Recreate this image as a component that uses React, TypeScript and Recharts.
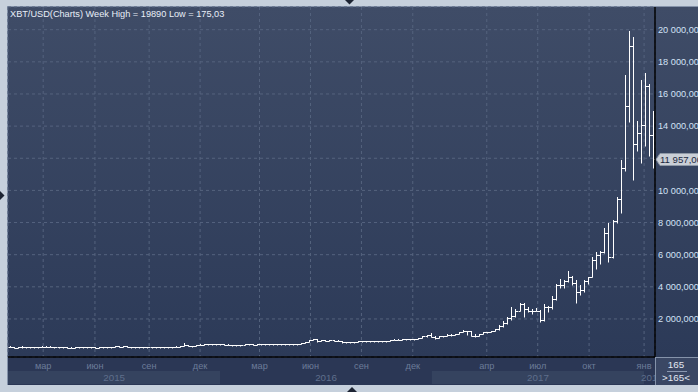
import React from 'react';
import { ComposedChart, Bar, XAxis, YAxis, CartesianGrid, ReferenceLine } from 'recharts';

// Weekly OHLC, XBT/USD, first week Jan 2015 … Jan 2018
const opens = [
  274, 266, 209, 253, 226, 227, 257, 238, 260, 275, 286, 260, 252, 253, 236, 223, 219, 240, 243, 233,
  240, 225, 223, 233, 244, 257, 271, 290, 276, 293, 281, 265, 260, 228, 230, 236, 231, 231, 234, 239,
  247, 269, 285, 326, 378, 330, 323, 361, 396, 434, 442, 422, 430, 448, 382, 391, 376, 373, 400, 437,
  433, 410, 412, 411, 417, 421, 421, 431, 461, 448, 461, 457, 446, 528, 581, 687, 762, 640, 676, 651,
  662, 655, 624, 587, 570, 581, 573, 606, 609, 609, 601, 612, 620, 638, 657, 700, 703, 703, 730, 736,
  765, 776, 791, 928, 998, 900, 820, 920, 915, 1020, 1000, 1050, 1190, 1230, 1240, 960, 960, 1080, 1170, 1180,
  1240, 1350, 1560, 1720, 2050, 2200, 2520, 2950, 2640, 2480, 2500, 2500, 1930, 2750, 2750, 3250, 4100, 4100, 4350, 4600,
  4250, 3700, 3780, 4350, 4600, 5700, 6000, 6150, 7380, 5880, 8100, 9460, 11380, 15250, 18980, 12890, 13550, 14070, 16500, 13450,
];
const highs = [
  300, 272, 255, 310, 246, 263, 258, 262, 300, 300, 294, 270, 262, 260, 237, 237, 245, 246, 245, 242,
  241, 232, 234, 254, 259, 274, 300, 296, 294, 298, 286, 271, 262, 233, 237, 245, 236, 237, 246, 248,
  271, 291, 336, 502, 390, 339, 378, 416, 468, 467, 454, 437, 460, 450, 425, 397, 395, 403, 445, 442,
  437, 420, 418, 420, 424, 425, 432, 467, 468, 464, 462, 461, 534, 588, 702, 780, 770, 710, 687, 684,
  678, 661, 628, 597, 584, 585, 612, 630, 611, 612, 616, 623, 642, 659, 720, 743, 739, 754, 748, 770,
  781, 801, 934, 1000, 1150, 915, 935, 930, 1040, 1080, 1070, 1200, 1290, 1280, 1250, 1060, 1090, 1210, 1210, 1250,
  1360, 1620, 1860, 2100, 2760, 2600, 2980, 2980, 2770, 2590, 2690, 2530, 2900, 2800, 3450, 4200, 4480, 4400, 4980, 4700,
  4400, 4100, 4400, 4600, 5850, 6150, 6200, 7640, 7950, 8160, 9570, 11890, 17180, 19890, 19530, 14340, 16870, 17300, 16620, 14960,
];
const lows = [
  262, 175.03, 205, 212, 212, 216, 232, 233, 258, 268, 246, 236, 240, 219, 215, 217, 217, 227, 231, 232,
  225, 220, 222, 228, 242, 252, 263, 271, 271, 278, 258, 253, 198, 199, 225, 229, 223, 225, 232, 234,
  246, 264, 280, 320, 303, 312, 315, 350, 391, 428, 410, 413, 424, 360, 366, 363, 365, 371, 396, 410,
  401, 395, 407, 408, 411, 414, 418, 428, 442, 442, 449, 436, 440, 516, 575, 662, 555, 620, 610, 648,
  650, 620, 480, 566, 565, 571, 568, 601, 600, 592, 600, 607, 615, 628, 652, 685, 701, 697, 725, 730,
  750, 770, 791, 890, 880, 750, 815, 890, 910, 950, 995, 1045, 1180, 1010, 940, 890, 940, 1080, 1160, 1180,
  1240, 1340, 1530, 1700, 1940, 2130, 2500, 2150, 2450, 2330, 2480, 1840, 1900, 2450, 2650, 3200, 3950, 3900, 4300, 4100,
  2980, 3500, 3700, 4150, 4580, 5100, 5400, 6120, 5560, 5800, 8000, 8570, 11200, 14270, 10650, 12470, 11700, 12780, 12140, 11390,
];
const closes = [
  266, 209, 253, 226, 227, 257, 238, 260, 275, 286, 260, 252, 253, 236, 223, 219, 240, 243, 233, 240,
  225, 223, 233, 244, 257, 271, 290, 276, 293, 281, 265, 260, 228, 230, 236, 231, 231, 234, 239, 247,
  269, 285, 326, 378, 330, 323, 361, 396, 434, 442, 422, 430, 448, 382, 391, 376, 373, 400, 437, 433,
  410, 412, 411, 417, 421, 421, 431, 461, 448, 461, 457, 446, 528, 581, 687, 762, 640, 676, 651, 662,
  655, 624, 587, 570, 581, 573, 606, 609, 609, 601, 612, 620, 638, 657, 700, 703, 703, 730, 736, 765,
  776, 791, 928, 998, 900, 820, 920, 915, 1020, 1000, 1050, 1190, 1230, 1240, 960, 960, 1080, 1170, 1180, 1240,
  1350, 1560, 1720, 2050, 2200, 2520, 2950, 2640, 2480, 2500, 2500, 1930, 2750, 2750, 3250, 4100, 4100, 4350, 4600, 4250,
  3700, 3780, 4350, 4600, 5700, 6000, 6150, 7380, 5880, 8100, 9460, 11380, 15250, 18980, 12890, 13550, 14070, 16500, 13450, 11957,
];

const priceTicks = [2000, 4000, 6000, 8000, 10000, 12000, 14000, 16000, 18000, 20000];
const monthTickIdx = [8.2, 21.0, 34.4, 47.0, 61.7, 74.3, 86.9, 99.6, 117.9, 130.5, 143.2, 156.8];
const monthLabels = ['мар', 'июн', 'сен', 'дек', 'мар', 'июн', 'сен', 'дек', 'апр', 'июл', 'окт', 'янв'];
const yearStarts = [-0.5, 52.0, 104.3, 156.8];
const yearLabels = ['2015', '2016', '2017', '2018'];
const titleText = 'XBT/USD(Charts) Week High = 19890 Low = 175,03';
const barCountText = '165';
const barCountText2 = '>165<';

const X_MIN = -0.5;
const X_MAX = 159.5;
const Y_MIN = -367;
const Y_MAX = 21412;

const W = 698;
const H = 392;
const PLOT_L = 8;
const PLOT_T = 7;
const AXIS_W = 43;
const PLOT_R = W - AXIS_W;
const PLOT_W = PLOT_R - PLOT_L;
const PLOT_B = 357;
const PX_PER_IDX = PLOT_W / (X_MAX - X_MIN);

const FONT = '"Liberation Sans", Arial, sans-serif';
const FS = 9.2;

const data = opens.map((o, i) => ({
  i,
  o,
  h: highs[i],
  l: lows[i],
  c: closes[i],
  range: [lows[i], highs[i]],
}));
const lastClose = closes[closes.length - 1];

const fmt = (n: number) => {
  const s = n.toFixed(3);
  const [ip, dp] = s.split('.');
  return ip.replace(/\B(?=(\d{3})+(?!\d))/g, ' ') + ',' + dp;
};

const OhlcShape = (props: any) => {
  const { x, y, width, height, payload } = props;
  if (x == null || y == null || !payload) return null;
  const top = Math.min(y, y + height);
  const bot = Math.max(y, y + height);
  const { o, h, l, c } = payload;
  const span = h - l;
  const yOf = (v: number) => top + (span > 0 ? ((h - v) / span) * (bot - top) : 0);
  const cx = Math.round(x + width / 2) + 0.5;
  const yo = Math.round(yOf(o)) + 0.5;
  const yc = Math.round(yOf(c)) + 0.5;
  const y1 = Math.round(top);
  const y2 = Math.max(Math.round(bot), y1 + 1);
  return (
    <g>
      <line x1={cx} x2={cx} y1={y1} y2={y2 + 0.5} stroke="#ffffff" strokeWidth={1} />
      <line x1={cx - 2} x2={cx} y1={yo} y2={yo} stroke="#ffffff" strokeWidth={1} />
      <line x1={cx} x2={cx + 2.5} y1={yc} y2={yc} stroke="#ffffff" strokeWidth={1} />
    </g>
  );
};

const MonthTick = (props: any) => {
  const { x, y, payload } = props;
  const k = monthTickIdx.indexOf(payload.value);
  return (
    <text x={x} y={y + 12.3} textAnchor="middle" fontSize={FS} fontFamily={FONT} fill="#6c7c99">
      {monthLabels[k]}
    </text>
  );
};

const YearTick = (props: any) => {
  const { x, y, payload } = props;
  const k = yearStarts.indexOf(payload.value);
  const end = k + 1 < yearStarts.length ? yearStarts[k + 1] : X_MAX;
  const w = (end - payload.value) * PX_PER_IDX;
  const light = k % 2 === 0;
  const isLast = k === yearStarts.length - 1;
  const id = `yrclip${k}`;
  return (
    <g>
      <defs>
        <clipPath id={id}>
          <rect x={PLOT_L} y={y} width={PLOT_W} height={14} />
        </clipPath>
      </defs>
      <g clipPath={`url(#${id})`}>
        <rect x={x} y={y} width={w} height={13} fill={light ? '#35435f' : '#2b3755'} />
        <text
          x={isLast ? x - 3 : x + w / 2}
          y={y + 9.5}
          textAnchor={isLast ? 'start' : 'middle'}
          fontSize={FS + 0.6}
          fontFamily={FONT}
          fill="#5f6f8c"
        >
          {yearLabels[k]}
        </text>
      </g>
    </g>
  );
};

// the last-price tag covers the axis label it sits on
const PriceTick = (props: any) => {
  const { x, y, payload } = props;
  if (Math.abs(payload.value - lastClose) < 500) return <g />;
  return (
    <text x={x + 3} y={y} dy="0.36em" fontSize={FS} fontFamily={FONT} fill="#d3e2f6">
      {fmt(payload.value)}
    </text>
  );
};

const PriceTag = (props: any) => {
  const vb = props.viewBox || {};
  const x = (vb.x || 0) + (vb.width || 0);
  const y = Math.round(vb.y || 0) + 0.5;
  return (
    <g>
      <path
        d={`M${x + 1},${y} L${x + 5},${y - 6} L${W + 2},${y - 6} L${W + 2},${y + 6} L${x + 5},${y + 6} Z`}
        fill="#c9ced6"
        stroke="#8e98a6"
        strokeWidth={1}
      />
      <text x={x + 5} y={y} dy="0.36em" fontSize={FS + 0.4} fontFamily={FONT} fill="#1b2740">
        {fmt(lastClose)}
      </text>
    </g>
  );
};

export default function App() {
  return (
    <div
      style={{
        position: 'absolute',
        left: 0,
        top: 0,
        width: W,
        height: H,
        overflow: 'hidden',
        background: '#c6d0dc',
        fontFamily: FONT,
      }}
    >
      <svg width={W} height={H} style={{ position: 'absolute', left: 0, top: 0 }}>
        <rect x={PLOT_L - 1} y={PLOT_T - 1} width={W - PLOT_L + 1} height={385 - PLOT_T + 1} fill="#8593aa" />
        <polygon points="345,0 354,0 349.5,4.5" fill="#1d2433" />
        <polygon points="0,191 4.5,195.5 0,200" fill="#1d2433" />
        <polygon points="347,392 357,392 352,387" fill="#1d2433" />
      </svg>
      <div
        style={{
          position: 'absolute',
          left: PLOT_L,
          top: PLOT_T,
          width: W - PLOT_L,
          height: PLOT_B - PLOT_T,
          background: 'linear-gradient(#3f4c67, #2c3a58)',
        }}
      />
      <div
        style={{
          position: 'absolute',
          left: PLOT_L,
          top: PLOT_B,
          width: PLOT_W,
          height: 385 - PLOT_B,
          background: '#2b3755',
        }}
      />
      <div
        style={{
          position: 'absolute',
          left: PLOT_R + 1,
          top: PLOT_B + 1,
          width: W - PLOT_R - 1,
          height: 385 - PLOT_B - 1,
          background: '#3a4764',
          color: '#e2e8f2',
          fontSize: FS + 0.6,
          textAlign: 'center',
          lineHeight: '13px',
        }}
      >
        <div style={{ marginLeft: -2 }}>{barCountText}</div>
        <div style={{ position: 'absolute', left: 11, right: 11, top: 13, height: 1, background: '#8a98b0' }} />
        <div style={{ marginLeft: -2 }}>{barCountText2}</div>
      </div>
      <div style={{ position: 'absolute', left: 0, top: 0 }}>
        <ComposedChart
          width={W}
          height={H}
          data={data}
          margin={{ top: PLOT_T, right: 0, bottom: 7, left: PLOT_L }}
        >
          <CartesianGrid xAxisId="m" stroke="#55637e" strokeDasharray="3 3" strokeWidth={1} />
          <XAxis
            xAxisId="m"
            dataKey="i"
            type="number"
            domain={[X_MIN, X_MAX]}
            allowDataOverflow
            ticks={monthTickIdx}
            interval={0}
            tick={<MonthTick />}
            tickLine={false}
            tickSize={0}
            tickMargin={0}
            height={14}
            axisLine={{ stroke: '#000000', strokeWidth: 1.5 }}
          />
          <XAxis
            xAxisId="y"
            dataKey="i"
            type="number"
            domain={[X_MIN, X_MAX]}
            allowDataOverflow
            ticks={yearStarts}
            interval={0}
            tick={<YearTick />}
            tickLine={false}
            tickSize={0}
            tickMargin={0}
            height={14}
            axisLine={false}
          />
          <YAxis
            orientation="right"
            width={AXIS_W}
            domain={[Y_MIN, Y_MAX]}
            allowDataOverflow
            ticks={priceTicks}
            interval={0}
            tick={<PriceTick />}
            tickLine={false}
            tickSize={0}
            tickMargin={0}
            axisLine={{ stroke: '#000000', strokeWidth: 1.5 }}
          />
          <Bar xAxisId="m" dataKey="range" barSize={4} shape={<OhlcShape />} isAnimationActive={false} />
          <ReferenceLine xAxisId="m" y={lastClose} stroke="none" label={(p: any) => <PriceTag {...p} />} />
        </ComposedChart>
      </div>
      <div
        style={{
          position: 'absolute',
          left: 10,
          top: 8,
          fontSize: FS,
          lineHeight: '12px',
          color: '#e8eef7',
          whiteSpace: 'nowrap',
        }}
      >
        {titleText}
      </div>
    </div>
  );
}
